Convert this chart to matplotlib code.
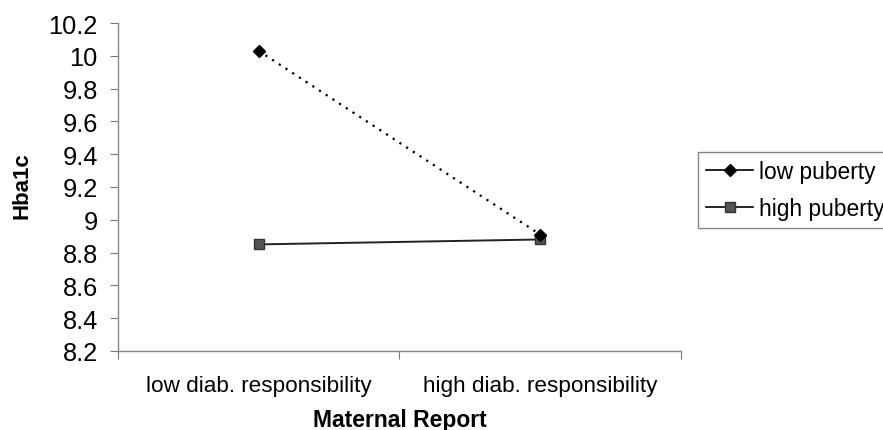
import matplotlib
matplotlib.use("Agg")
import matplotlib.pyplot as plt
from matplotlib.lines import Line2D

categories = ["low diab. responsibility", "high diab. responsibility"]
low_puberty = [10.03, 8.91]
high_puberty = [8.85, 8.88]
yticks = [8.2, 8.4, 8.6, 8.8, 9.0, 9.2, 9.4, 9.6, 9.8, 10.0, 10.2]
ytick_labels = ["8.2", "8.4", "8.6", "8.8", "9", "9.2", "9.4", "9.6", "9.8", "10", "10.2"]

plt.rcParams['font.family'] = ['Liberation Sans', 'DejaVu Sans']

fig = plt.figure(figsize=(8.83, 4.31), dpi=100)
ax = fig.add_axes([118/883, 1-352/431, (681-118)/883, (352-24)/431])

x = [0.5, 1.5]
ax.plot(x, low_puberty, linestyle=(0, (1, 2.6)), color='black', linewidth=1.6,
        marker='D', markersize=6.5, markerfacecolor='black', markeredgecolor='black', zorder=3)
ax.plot(x, high_puberty, linestyle='-', color='#222222', linewidth=1.4,
        marker='s', markersize=7.5, markerfacecolor='#555555', markeredgecolor='#333333', zorder=2)

ax.set_xlim(0, 2)
ax.set_ylim(8.2, 10.2)
ax.set_yticks(yticks)
ax.set_yticklabels(ytick_labels, fontsize=18.3)
ax.set_xticks([0, 1, 2])
ax.set_xticklabels([])
ax.set_xticks(x, minor=True)
ax.set_xticklabels(categories, minor=True, fontsize=16.2)
ax.tick_params(axis='x', which='minor', length=0, pad=17)
ax.tick_params(axis='x', which='major', length=5.5, direction='out', color='#777777')
ax.tick_params(axis='y', length=5.5, direction='out', color='#777777', pad=9)

for s in ['top', 'right']:
    ax.spines[s].set_visible(False)
for s in ['left', 'bottom']:
    ax.spines[s].set_color('#888888')
    ax.spines[s].set_linewidth(1.0)

fig.text(22/883, 1-185.5/431, "Hba1c", fontsize=16, fontweight='bold',
         rotation=90, ha='center', va='center')
fig.text(400/883, 1-421/431, "Maternal Report", fontsize=16.5, fontweight='bold',
         ha='center', va='center')

handles = [
    Line2D([], [], color='black', linewidth=1.2, marker='D', markersize=6.5,
           markerfacecolor='black'),
    Line2D([], [], color='black', linewidth=1.2, marker='s', markersize=7.5,
           markerfacecolor='#555555', markeredgecolor='#333333'),
]
leg = fig.legend(handles, ["low puberty", "high puberty"], loc='center left',
                 bbox_to_anchor=(698/883, 1-191/431), fontsize=16.4, frameon=True,
                 fancybox=False, edgecolor='#666666', handlelength=2.05,
                 handletextpad=0.27, borderpad=0.36, labelspacing=0.58,
                 borderaxespad=0)
leg.get_frame().set_linewidth(1.0)

fig.savefig("out.png", dpi=100)
